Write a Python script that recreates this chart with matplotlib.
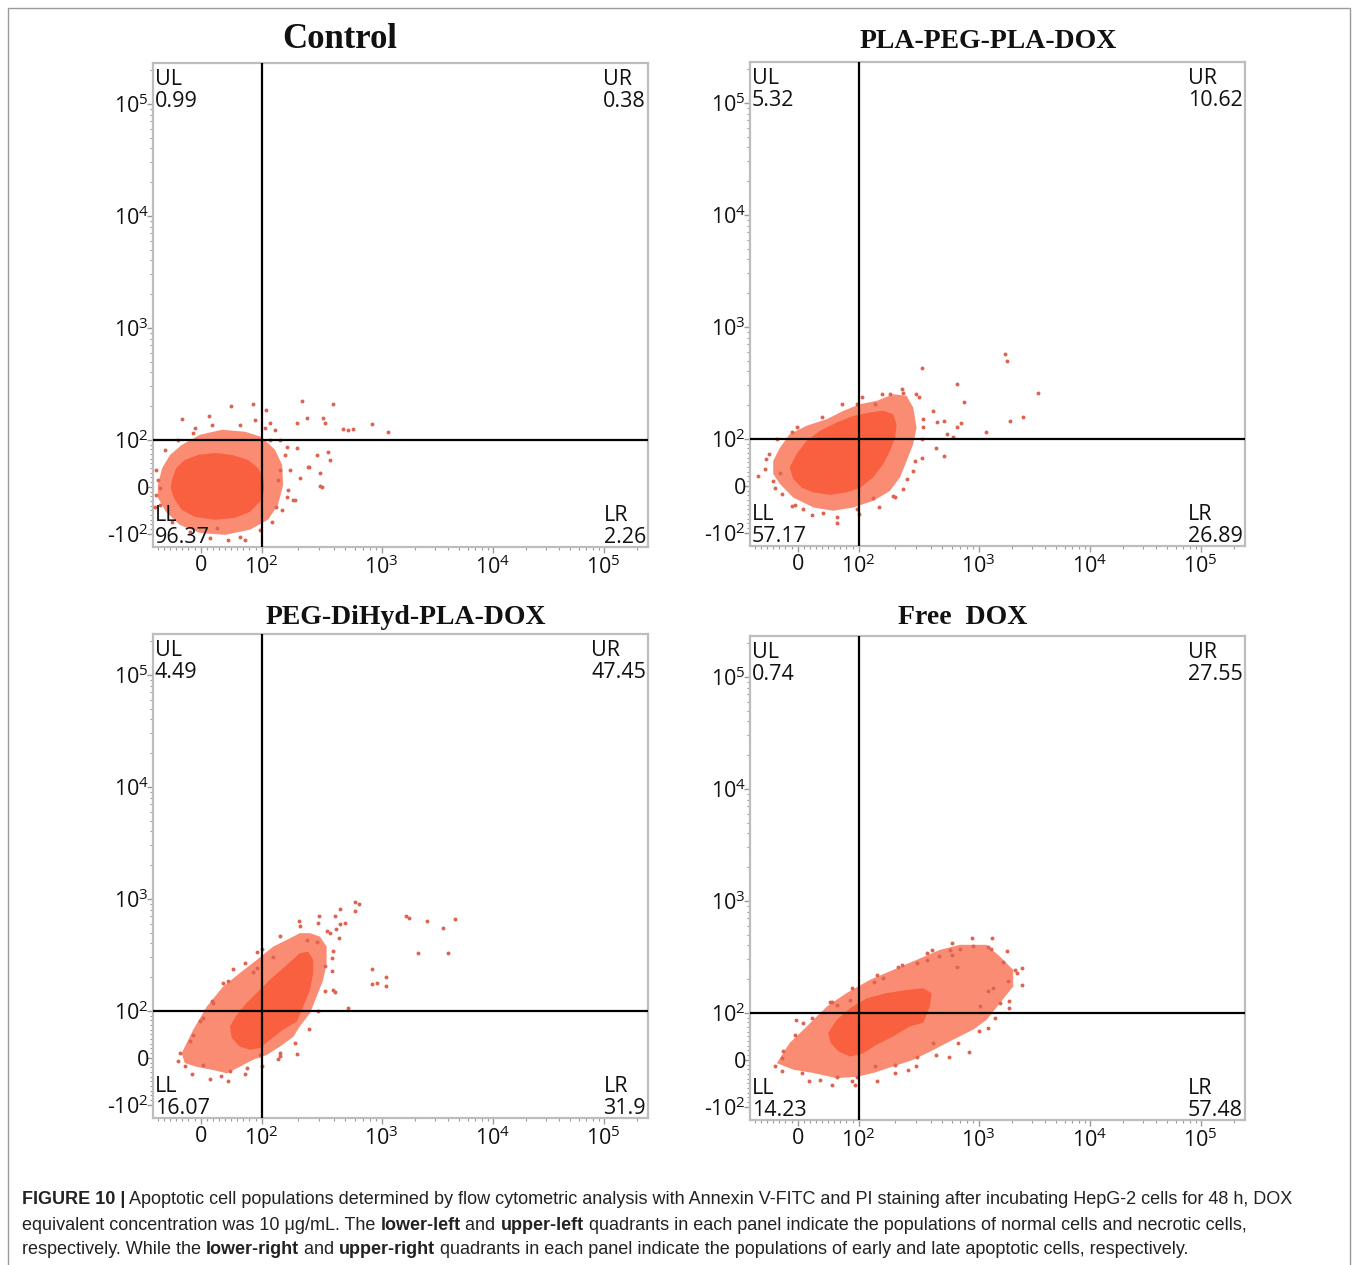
import numpy as np
import matplotlib
matplotlib.use("Agg")
import matplotlib.pyplot as plt
from matplotlib.patches import Rectangle
from matplotlib.ticker import FixedLocator

plt.rcParams["mathtext.fontset"] = "custom"
plt.rcParams["mathtext.rm"] = "Open Sans"
plt.rcParams["mathtext.it"] = "Open Sans:italic"
plt.rcParams["mathtext.bf"] = "Open Sans:bold"

# ---------------- data ----------------
titles = ["Control", "PLA-PEG-PLA-DOX", "PEG-DiHyd-PLA-DOX", "Free  DOX"]
ul_vals = ["0.99", "5.32", "4.49", "0.74"]
ur_vals = ["0.38", "10.62", "47.45", "27.55"]
ll_vals = ["96.37", "57.17", "16.07", "14.23"]
lr_vals = ["2.26", "26.89", "31.9", "57.48"]

x_ticks = [0, 100, 1000, 10000, 100000]
x_tick_labels = ["0", "10$^2$", "10$^3$", "10$^4$", "10$^5$"]
y_ticks = [-100, 0, 100, 1000, 10000, 100000]
y_tick_labels = ["-10$^2$", "0", "10$^2$", "10$^3$", "10$^4$", "10$^5$"]

# Control
ctrl_core_x = [-47, -40, -26, -4, 23, 51, 78, 94, 103, 105, 97, 81, 56, 23, -9, -31, -44, -49]
ctrl_core_y = [15, 40, 57, 68, 72, 68, 57, 40, 19, -6, -32, -53, -66, -70, -64, -49, -23, -2]
ctrl_fringe_x = [-70, -63, -50, -31, -1, 35, 73, 100, 129, 148, 151, 137, 113, 81, 40, -1, -34, -57, -70]
ctrl_fringe_y = [4, 40, 68, 89, 111, 123, 118, 106, 79, 47, 4, -38, -70, -91, -102, -98, -81, -53, -23]
ctrl_dots_x = [50, 86, 217, 393, 14, -31, -13, 830, 1140, 476, 577, 198, 239, 324, 337, 306, 318, 243, 182, 163,
               132, 137, 142, 371, 357, 289, 198, 163, 142, 129, 117, 109, -70, -67, -75, 27, 64, 523, 306, 190,
               208, 248,
               -73, -59, -37, -9, 19, 64, 89, 107, 117, 156, 172, 166, 148, 122, 97, 73, 45, 15, -18, -47, -67, -73]
ctrl_dots_y = [201, 210, 223, 210, 164, 154, 115, 139, 118, 125, 125, 142, 157, 157, 142, 30, 0, 43, -28, -21,
               -43, 15, 36, 57, 74, 68, 83, 85, 100, 123, 142, 185, 15, -2, -43, -87, -106, 123, 2, -28,
               19, 43,
               36, 79, 100, 128, 136, 136, 151, 128, 100, 68, 36, -6, -49, -74, -91, -113, -113, -109, -96, -74, -38, -17]

# PLA-PEG-PLA-DOX
pla_core_x = [-13, -2, 15, 37, 64, 91, 124, 160, 194, 207, 201, 182, 160, 132, 103, 80, 53, 26, 7, -7]
pla_core_y = [39, 67, 96, 118, 140, 160, 172, 178, 166, 135, 103, 74, 46, 18, -4, -14, -19, -14, -4, 14]
pla_fringe_x = [-40, -29, -13, 15, 48, 75, 103, 141, 194, 251, 285, 304, 285, 251, 221, 182, 132, 91, 58, 26, -7, -29, -40]
pla_fringe_y = [53, 81, 110, 131, 150, 178, 204, 218, 250, 242, 190, 126, 89, 53, 18, -11, -32, -46, -53, -46, -25, 4, 25]
pla_dots_x = [1726, 1787, 335, 661, 754, 3444, 2520, 1914, 1164, 712, 661, 514, 548, 607, 514, 438, 414, 447, 341, 235,
              298, 182, 335, 285, 235, 194, 132, 97, 64, 41, 9, -10, -37, -51, -65, -29, -10, 97, 137,
              -47, -34, -1, 40, 73, 107, 156, 230, 318, 343, 337, 294, 253, 201, 148, 100, 64, 23, -4, -26, -40, -54]
pla_dots_y = [578, 497, 433, 308, 215, 259, 157, 143, 114, 138, 128, 145, 110, 103, 64, 80, 178, 140, 128, 259,
              250, 250, 60, 32, -7, -21, -25, -50, -78, -57, -50, -43, -4, 57, 21, 28, 114, 204, 204,
              68, 100, 128, 157, 205, 237, 250, 279, 237, 151, 100, 53, 15, -23, -45, -60, -66, -62, -40, -17, 11, 36]

# PEG-DiHyd-PLA-DOX
peg_core_x = [48, 59, 75, 97, 125, 162, 208, 244, 269, 269, 253, 222, 196, 151, 117, 97, 81, 64, 51]
peg_core_y = [67, 91, 117, 154, 202, 257, 327, 338, 285, 217, 154, 109, 77, 60, 38, 21, 17, 24, 42]
peg_fringe_x = [-31, -12, 10, 37, 64, 92, 125, 162, 208, 253, 306, 348, 348, 326, 287, 253, 208, 184, 142, 110,
                86, 64, 43, 21, -7, -26]
peg_fringe_y = [10, 60, 109, 165, 217, 285, 375, 430, 494, 494, 460, 375, 267, 189, 134, 95, 67, 45, 24, 6,
                -4, -19, -33, -26, -19, -11]
peg_dots_x = [599, 646, 599, 449, 302, 408, 206, 449, 494, 416, 348, 444, 1655, 1774, 2576, 3589, 4548, 2110, 3956, 825,
              1086, 1086, 835, 919, 527, 395, 408, 383, 337, 197, 142, 136, 97, 76, 48, 34, 4, -26, -33, -13,
              4, 21, 37, 53, 92, 92, 86, 125, 237, 287,
              -37, -18, -1, 19, 45, 73, 101, 142, 208, 294, 371, 395, 387, 337, 294, 248, 190, 142, 100, 73, 45, 15, -14]
peg_dots_y = [934, 902, 786, 809, 705, 705, 636, 598, 614, 536, 511, 446, 710, 681, 636, 554, 659, 327, 327, 237,
              200, 167, 174, 179, 107, 154, 148, 295, 249, 9, 10, -3, 6, -22, -29, -38, -15, -17, 11, 49,
              84, 117, 177, 236, 338, 240, 224, 305, 430, 416,
              -6, 36, 79, 123, 185, 268, 358, 468, 574, 611, 497, 343, 228, 151, 100, 62, 32, 4, -17, -34, -49, -45, -34]

# Free DOX
free_core_x = [50, 64, 86, 117, 171, 251, 345, 405, 393, 345, 267, 194, 141, 109, 86, 67, 54]
free_core_y = [57, 85, 110, 135, 150, 160, 166, 150, 114, 79, 71, 50, 32, 14, 7, 18, 36]
free_fringe_x = [-34, -13, 15, 48, 80, 124, 194, 304, 476, 698, 1180, 1556, 2050, 2050, 1556, 1180, 898, 614, 419, 285,
                 194, 132, 97, 64, 26, -7]
free_fringe_y = [-7, 36, 71, 114, 150, 197, 242, 297, 365, 405, 405, 318, 242, 172, 122, 85, 64, 43, 21, 0,
                 -14, -28, -36, -39, -28, -21]
free_dots_x = [1205, 1291, 898, 698, 596, 405, 1667, 2124, 2198, 1849, 1888, 1556, 1220, 1354, 1027, 1220, 835, 565, 419, 304,
               259, 201, 137, 97, 89, 64, 37, 7, -37, -26, -2, 9, 53, 64, 86, 133, 161, 214, 304, 369, 470, 577, 656,
               -26, -24, -4, 23, 56, 89, 142, 230, 371, 599, 878, 1318, 1799, 2455, 2455, 1892, 1402, 1007, 672, 441,
               300, 201, 142, 94, 56, 19]
free_dots_y = [391, 371, 396, 371, 330, 365, 287, 242, 226, 194, 110, 122, 158, 166, 114, 67, 16, 6, 36, 7,
               -21, -11, -13, -36, -46, -36, -43, -27, -13, 4, 85, 78, 126, 118, 131, 190, 204, 259, 278, 297, 323, 365, 259,
               -23, 19, 53, 89, 126, 167, 218, 268, 343, 422, 468, 468, 358, 252, 178, 128, 89, 62, 36, 11,
               -13, -28, -45, -53, -53, -45]

panels = [
    (ctrl_core_x, ctrl_core_y, ctrl_fringe_x, ctrl_fringe_y, ctrl_dots_x, ctrl_dots_y),
    (pla_core_x, pla_core_y, pla_fringe_x, pla_fringe_y, pla_dots_x, pla_dots_y),
    (peg_core_x, peg_core_y, peg_fringe_x, peg_fringe_y, peg_dots_x, peg_dots_y),
    (free_core_x, free_core_y, free_fringe_x, free_fringe_y, free_dots_x, free_dots_y),
]

caption_lines = [
    [("FIGURE 10 |", True),
     (" Apoptotic cell populations determined by flow cytometric analysis with Annexin V-FITC and PI staining after incubating HepG-2 cells for 48 h, DOX", False)],
    [("equivalent concentration was 10 \u03bcg/mL. The ", False), ("lower-left", True), (" and ", False),
     ("upper-left", True), (" quadrants in each panel indicate the populations of normal cells and necrotic cells,", False)],
    [("respectively. While the ", False), ("lower-right", True), (" and ", False), ("upper-right", True),
     (" quadrants in each panel indicate the populations of early and late apoptotic cells, respectively.", False)],
]


# ---------------- scale (biexponential-like display) ----------------
def biex(L, k):
    def fwd(v):
        v = np.asarray(v, dtype=float)
        a = np.abs(v)
        d = np.log10(np.maximum(a, 100.0) / 100.0)
        t = np.where(a <= 100, a / 100.0 * L, L + k * np.minimum(d, 1.0) + np.maximum(d - 1.0, 0.0))
        return np.sign(v) * t

    def inv(t):
        t = np.asarray(t, dtype=float)
        b = np.abs(t)
        e1 = np.clip((b - L) / k, 0, 1)
        e2 = np.clip(b - L - k, 0, 20)
        a = np.where(b <= L, b / L * 100.0, 100.0 * 10 ** e1 * 10 ** e2)
        return np.sign(t) * a
    return fwd, inv


W, H = 1358, 1265
fig = plt.figure(figsize=(W / 100, H / 100), dpi=100)

# axes boxes in pixels: left, top, right, bottom
boxes = [(153, 63, 648, 547), (750, 62, 1245, 546), (153, 634, 648, 1118), (750, 636, 1245, 1120)]
title_pos = [(340, 40, 25), (988, 41, 20), (406, 617, 20), (963, 617, 20)]

core_color = "#F9603F"
dot_color = "#DD6450"
spine_color = "#BDBDBD"

x_minor = [-70, -60, -50, -40, -30, -20, -10, 10, 20, 30, 40, 50, 60, 70, 80, 90] + \
    [m * 10 ** e for e in range(2, 6) for m in range(2, 10)]
y_minor = [-90, -80, -70, -60, -50, -40, -30, -20, -10, 10, 20, 30, 40, 50, 60, 70, 80, 90] + \
    [m * 10 ** e for e in range(2, 6) for m in range(2, 10)]

for i, (box, data) in enumerate(zip(boxes, panels)):
    l, t, r, b = box
    ax = fig.add_axes([l / W, 1 - b / H, (r - l) / W, (b - t) / H])
    ax.set_xscale("function", functions=biex(0.55, 1.08))
    ax.set_yscale("function", functions=biex(0.42, 1.0))
    ax.set_xlim(-78, 2.51e5)
    ax.set_ylim(-131, 2.32e5)

    cx, cy, fx, fy, dx, dy = data
    ax.fill(fx, fy, color=core_color, alpha=0.72, lw=0, zorder=1)
    ax.fill(cx, cy, color=core_color, lw=0, zorder=2)
    ax.scatter(dx, dy, s=8, color=dot_color, lw=0, zorder=3)

    ax.axvline(100, color="black", lw=1.6, zorder=4)
    ax.axhline(100, color="black", lw=1.6, zorder=4)

    ax.xaxis.set_major_locator(FixedLocator(x_ticks))
    ax.set_xticklabels(x_tick_labels)
    ax.yaxis.set_major_locator(FixedLocator(y_ticks))
    ax.set_yticklabels(y_tick_labels)
    ax.xaxis.set_minor_locator(FixedLocator(x_minor))
    ax.yaxis.set_minor_locator(FixedLocator(y_minor))
    ax.tick_params(axis="both", which="major", length=4, width=1, color="#9a9a9a",
                   labelsize=15.5, labelcolor="#111111")
    ax.tick_params(axis="both", which="minor", length=2.5, width=0.8, color="#9a9a9a")
    ax.tick_params(axis="x", which="major", pad=2)
    ax.tick_params(axis="y", which="major", pad=-1)
    for lab in ax.get_xticklabels() + ax.get_yticklabels():
        lab.set_fontfamily("Open Sans")
    for sp in ax.spines.values():
        sp.set_color(spine_color)
        sp.set_linewidth(1.6)

    qkw = dict(transform=ax.transAxes, fontsize=15.5, family="Open Sans", color="#111111",
               linespacing=1.05, multialignment="left", zorder=6)
    ax.text(0.004, 0.988, "UL\n" + ul_vals[i], ha="left", va="top", **qkw)
    ax.text(0.996, 0.988, "UR\n" + ur_vals[i], ha="right", va="top", **qkw)
    ax.text(0.004, -0.002, "LL\n" + ll_vals[i], ha="left", va="bottom", **qkw)
    ax.text(0.996, -0.002, "LR\n" + lr_vals[i], ha="right", va="bottom", **qkw)

    tx, ty, tsz = title_pos[i]
    fig.text(tx / W, 1 - ty / H, titles[i], ha="center", va="center", fontsize=tsz,
             fontweight="bold", family="Liberation Serif", color="#111111")

# outer frame
fig.patches.append(Rectangle((8 / W, -0.02), 1342 / W, 1 - 8 / H + 0.02, transform=fig.transFigure,
                             fill=False, edgecolor="#9a9a9a", lw=1.0))

# caption with bold segments
renderer = fig.canvas.get_renderer()
for line, yc in zip(caption_lines, [1200, 1225, 1250]):
    xpx = 22
    for txt, bold in line:
        tt = fig.text(xpx / W, 1 - yc / H, txt, ha="left", va="center", fontsize=12.95,
                      fontweight="bold" if bold else "normal", family="Liberation Sans", color="#222222")
        bb = tt.get_window_extent(renderer=renderer)
        xpx = bb.x1

fig.savefig("out.png", dpi=100)
